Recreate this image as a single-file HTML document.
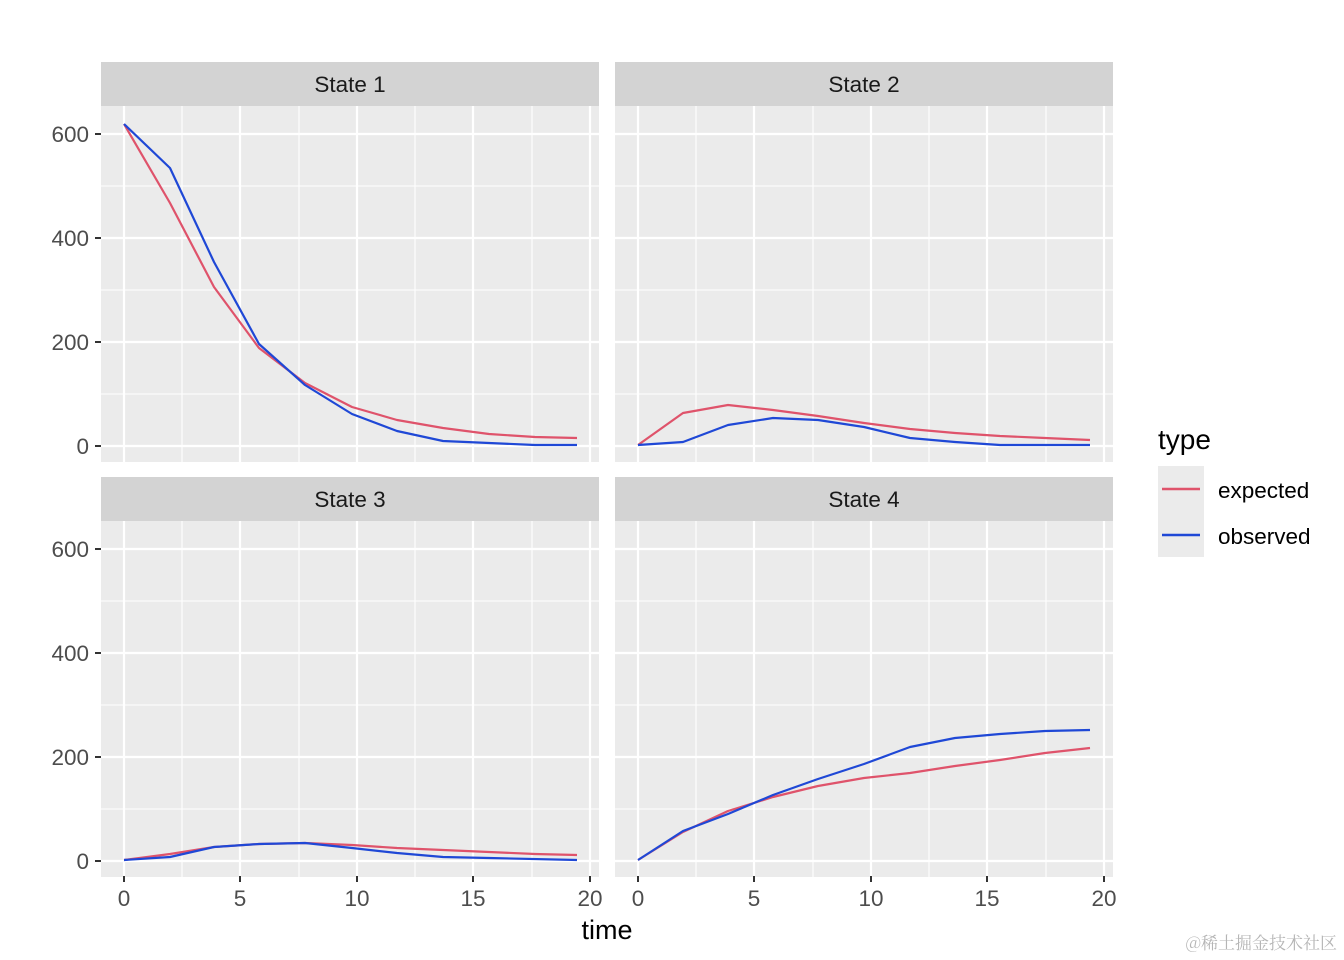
<!DOCTYPE html>
<html><head><meta charset="utf-8"><style>
body{margin:0;background:#fff;}
svg{display:block;font-family:"Liberation Sans",Arial,sans-serif;}
</style></head><body>
<svg width="1344" height="960" viewBox="0 0 1344 960" xmlns="http://www.w3.org/2000/svg">
<defs>
<g id="pan">
<rect x="0" y="0" width="498" height="356" fill="#EBEBEB"/>
<g stroke="#fff" stroke-width="1.1">
<line x1="81" y1="0" x2="81" y2="356"/><line x1="198" y1="0" x2="198" y2="356"/>
<line x1="314" y1="0" x2="314" y2="356"/><line x1="431" y1="0" x2="431" y2="356"/>
<line x1="0" y1="80" x2="498" y2="80"/><line x1="0" y1="184" x2="498" y2="184"/><line x1="0" y1="288" x2="498" y2="288"/>
</g>
<g stroke="#fff" stroke-width="2.2">
<line x1="23" y1="0" x2="23" y2="356"/><line x1="139" y1="0" x2="139" y2="356"/>
<line x1="256" y1="0" x2="256" y2="356"/><line x1="372" y1="0" x2="372" y2="356"/><line x1="489" y1="0" x2="489" y2="356"/>
<line x1="0" y1="28" x2="498" y2="28"/><line x1="0" y1="132" x2="498" y2="132"/>
<line x1="0" y1="236" x2="498" y2="236"/><line x1="0" y1="340" x2="498" y2="340"/>
</g>
<rect x="0" y="-44" width="498" height="44" fill="#D3D3D3"/>
</g>
</defs>
<use href="#pan" x="101" y="106"/>
<use href="#pan" x="615" y="106"/>
<use href="#pan" x="101" y="521"/>
<use href="#pan" x="615" y="521"/>
<g font-size="22.5" fill="#1a1a1a" text-anchor="middle">
<text x="350" y="92">State 1</text><text x="864" y="92">State 2</text>
<text x="350" y="507">State 3</text><text x="864" y="507">State 4</text>
</g>
<g stroke="#333" stroke-width="2">
<line x1="95" y1="134" x2="101" y2="134"/><line x1="95" y1="238" x2="101" y2="238"/>
<line x1="95" y1="342" x2="101" y2="342"/><line x1="95" y1="446" x2="101" y2="446"/>
<line x1="95" y1="549" x2="101" y2="549"/><line x1="95" y1="653" x2="101" y2="653"/>
<line x1="95" y1="757" x2="101" y2="757"/><line x1="95" y1="861" x2="101" y2="861"/>
<line x1="124" y1="876" x2="124" y2="882"/><line x1="240" y1="876" x2="240" y2="882"/>
<line x1="357" y1="876" x2="357" y2="882"/><line x1="473" y1="876" x2="473" y2="882"/><line x1="590" y1="876" x2="590" y2="882"/>
<line x1="638" y1="876" x2="638" y2="882"/><line x1="754" y1="876" x2="754" y2="882"/>
<line x1="871" y1="876" x2="871" y2="882"/><line x1="987" y1="876" x2="987" y2="882"/><line x1="1104" y1="876" x2="1104" y2="882"/>
</g>
<g font-size="22.5" fill="#4d4d4d" text-anchor="end">
<text x="89" y="142">600</text><text x="89" y="246">400</text><text x="89" y="350">200</text><text x="89" y="454">0</text>
<text x="89" y="557">600</text><text x="89" y="661">400</text><text x="89" y="765">200</text><text x="89" y="869">0</text>
</g>
<g font-size="22.5" fill="#4d4d4d" text-anchor="middle">
<text x="124" y="906">0</text><text x="240" y="906">5</text><text x="357" y="906">10</text><text x="473" y="906">15</text><text x="590" y="906">20</text>
<text x="638" y="906">0</text><text x="754" y="906">5</text><text x="871" y="906">10</text><text x="987" y="906">15</text><text x="1104" y="906">20</text>
</g>
<text x="607" y="939" font-size="27" text-anchor="middle" fill="#000">time</text>
<g fill="none" stroke-width="2.2" stroke-linejoin="round">
<polyline stroke="#DF536B" points="124,124 170,203 214,287 259,348 305,383 352,407 397,420 443,428 489,434 535,437 577,438"/>
<polyline stroke="#1F48D6" points="124,124 170,168 214,262 259,344 305,385 352,414 397,431 443,441 489,443 535,445 577,445"/>
<polyline stroke="#DF536B" points="638,445 683,413 728,405 773,410 818,416 864,423 910,429 955,433 1000,436 1045,438 1090,440"/>
<polyline stroke="#1F48D6" points="638,445 683,442 728,425 773,418 818,420 864,427 910,438 955,442 1000,445 1090,445"/>
<polyline stroke="#DF536B" points="124,860 170,854 214,847 259,844 305,843 352,845 397,848 443,850 489,852 535,854 577,855"/>
<polyline stroke="#1F48D6" points="124,860 170,857 214,847 259,844 305,843 352,848 397,853 443,857 489,858 577,860"/>
<polyline stroke="#DF536B" points="638,860 683,832 728,811 773,797 818,786 864,778 910,773 955,766 1000,760 1045,753 1090,748"/>
<polyline stroke="#1F48D6" points="638,860 683,831 728,814 773,795 818,779 864,764 910,747 955,738 1000,734 1045,731 1090,730"/>
</g>
<text x="1158" y="449" font-size="28" fill="#000">type</text>
<rect x="1158" y="466" width="46" height="91" fill="#EBEBEB"/>
<line x1="1162" y1="489" x2="1200" y2="489" stroke="#DF536B" stroke-width="2.4"/>
<line x1="1162" y1="535" x2="1200" y2="535" stroke="#1F48D6" stroke-width="2.4"/>
<text x="1218" y="498" font-size="22.5" fill="#000">expected</text>
<text x="1218" y="544" font-size="22.5" fill="#000">observed</text>
<text x="1337" y="949" font-size="17" fill="#b5b5b5" text-anchor="end" font-family="'Noto Serif CJK SC','Noto Sans CJK SC',serif">@稀土掘金技术社区</text>
</svg>
</body></html>
